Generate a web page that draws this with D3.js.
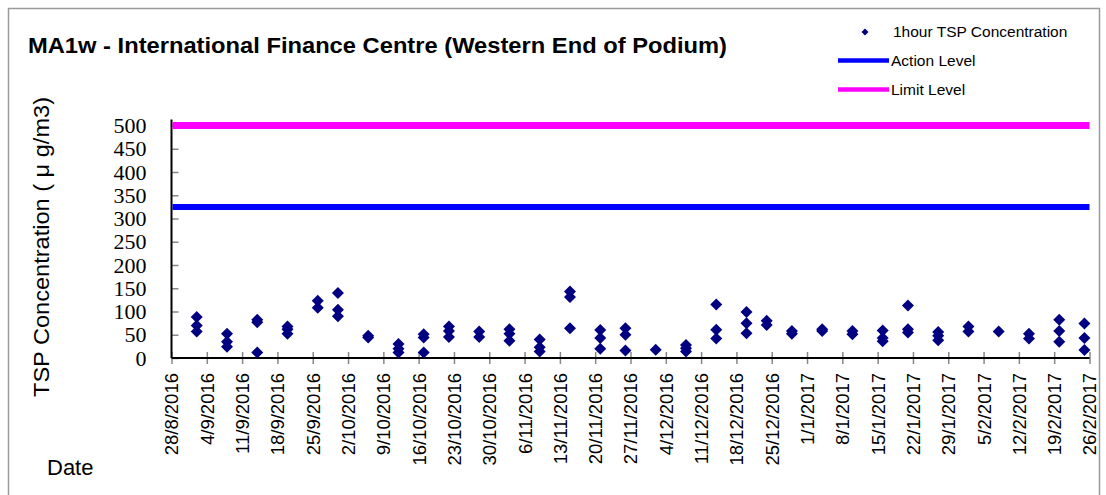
<!DOCTYPE html>
<html>
<head>
<meta charset="utf-8">
<script src="https://cdn.jsdelivr.net/npm/d3@7"></script>
<style>
  body { margin: 0; background: #fff; }
  .sans { font-family: Arial, "Liberation Sans", sans-serif; }
</style>
</head>
<body>
<div id="vis"></div>
<script>
// chart data
const title = "MA1w - International Finance Centre (Western End of Podium)"
const sampleDates = ["2016-09-02", "2016-09-08", "2016-09-14", "2016-09-20", "2016-09-26", "2016-09-30",
  "2016-10-06", "2016-10-12", "2016-10-17", "2016-10-22", "2016-10-28", "2016-11-03", "2016-11-09",
  "2016-11-15", "2016-11-21", "2016-11-26", "2016-12-02", "2016-12-08", "2016-12-14", "2016-12-20",
  "2016-12-24", "2016-12-29", "2017-01-04", "2017-01-10", "2017-01-16", "2017-01-21", "2017-01-27",
  "2017-02-02", "2017-02-08", "2017-02-14", "2017-02-20", "2017-02-25"]
const tspValues = [
  [88, 70, 57], [52, 35, 24], [82, 77, 12], [68, 62, 52], [123, 108], [140, 104, 90],
  [48, 44], [30, 20, 12], [51, 44, 12], [68, 58, 45], [57, 45], [62, 52, 37], [40, 23, 14],
  [143, 131, 64], [60, 43, 20], [64, 50, 16], [18], [28, 21, 14], [115, 61, 42], [99, 75, 53],
  [80, 71], [58, 52], [62, 58], [58, 51], [59, 43, 36], [113, 62, 55], [56, 48, 38],
  [68, 57], [57], [52, 42], [82, 58, 35], [74, 43, 17]]
const actionLevel = 325
const limitLevel = 500
const dateRange = ["2016-08-28", "2017-02-26"]
const legendLabels = ["1hour TSP Concentration", "Action Level", "Limit Level"]

const W = 1106, H = 495
const plot = { left: 171.5, right: 1089.5, top: 125.5, bottom: 358 }

const parse = d3.utcParse("%Y-%m-%d")
const points = []
sampleDates.forEach((d, i) => {
  tspValues[i].forEach(v => points.push({ date: parse(d), value: v }))
})

const svg = d3.select("#vis").append("svg")
  .attr("width", W)
  .attr("height", H)
  .attr("class", "sans")

// outer frame
svg.append("rect")
  .attr("x", 8.5).attr("y", 8.5)
  .attr("width", 1091).attr("height", 500)
  .attr("fill", "none")
  .attr("stroke", "#9a9a9a")
  .attr("stroke-width", 1.5)

const x = d3.scaleUtc()
  .domain(dateRange.map(parse))
  .range([plot.left, plot.right])

const y = d3.scaleLinear()
  .domain([0, 500])
  .range([plot.bottom, plot.top])

// title
svg.append("text")
  .attr("x", 28).attr("y", 53)
  .attr("font-size", 22)
  .attr("font-weight", "bold")
  .attr("textLength", 699)
  .attr("lengthAdjust", "spacingAndGlyphs")
  .text(title)

// y axis (serif tick labels like the original)
const yAxis = svg.append("g")
  .attr("transform", `translate(${plot.left},0)`)
  .call(d3.axisLeft(y).ticks(10).tickSize(-7).tickPadding(25))
yAxis.attr("font-family", "'Liberation Serif', 'DejaVu Serif', serif")
  .attr("font-size", 22)
yAxis.select(".domain").remove()
yAxis.selectAll(".tick line").attr("stroke", "#888").attr("stroke-width", 1.5)
yAxis.selectAll(".tick text")
  .attr("style", "font-family: 'Liberation Serif', 'DejaVu Serif', serif; font-size: 22px")
  .attr("fill", "#000")

// x axis
const xAxis = svg.append("g")
  .attr("transform", `translate(0,${plot.bottom})`)
  .call(d3.axisBottom(x).ticks(d3.utcSunday.every(1)).tickFormat(d3.utcFormat("%-d/%-m/%Y")).tickSizeInner(6).tickSizeOuter(0))
xAxis.attr("font-family", "Arial, 'Liberation Sans', sans-serif")
  .attr("font-size", 18.5)
xAxis.select(".domain").remove()
xAxis.selectAll(".tick line")
  .attr("y1", -6)
  .attr("y2", 6)
  .attr("stroke", "#888").attr("stroke-width", 1.5)
xAxis.selectAll(".tick text")
  .attr("fill", "#000")
  .attr("text-anchor", "end")
  .attr("transform", "translate(0,15) rotate(-90)")
  .attr("x", 0).attr("y", 0)
  .attr("dy", "0.35em")

// axis lines
svg.append("line")
  .attr("x1", plot.left).attr("x2", plot.left)
  .attr("y1", plot.top - 6).attr("y2", plot.bottom)
  .attr("stroke", "#000").attr("stroke-width", 2)
svg.append("line")
  .attr("x1", plot.left).attr("x2", plot.right)
  .attr("y1", plot.bottom).attr("y2", plot.bottom)
  .attr("stroke", "#000").attr("stroke-width", 2)

// action and limit levels
svg.append("line")
  .attr("x1", plot.left + 1).attr("x2", plot.right)
  .attr("y1", y(limitLevel)).attr("y2", y(limitLevel))
  .attr("stroke", "#ff00ff").attr("stroke-width", 7)
svg.append("line")
  .attr("x1", plot.left + 1).attr("x2", plot.right)
  .attr("y1", y(actionLevel)).attr("y2", y(actionLevel))
  .attr("stroke", "#0000ff").attr("stroke-width", 6)

// points
const diamond = r => `M0,${-r}L${r},0L0,${r}L${-r},0Z`
svg.append("g")
  .selectAll("path")
  .data(points)
  .enter()
  .append("path")
  .attr("d", diamond(6))
  .attr("transform", d => `translate(${x(d.date)},${y(d.value)})`)
  .attr("fill", "#000080")

// axis titles
svg.append("text")
  .attr("transform", "translate(49,247) rotate(-90)")
  .attr("text-anchor", "middle")
  .attr("font-size", 22)
  .attr("textLength", 300)
  .attr("lengthAdjust", "spacingAndGlyphs")
  .text("TSP Concentration ( μ g/m3)")

svg.append("text")
  .attr("x", 47).attr("y", 475)
  .attr("font-size", 22)
  .text("Date")

// legend
const legend = svg.append("g")
legend.append("path")
  .attr("d", diamond(3.5))
  .attr("transform", "translate(865,32)")
  .attr("fill", "#000080")
legend.append("text")
  .attr("x", 893).attr("y", 37)
  .attr("font-size", 15.5)
  .text(legendLabels[0])
legend.append("line")
  .attr("x1", 838).attr("x2", 889)
  .attr("y1", 60.5).attr("y2", 60.5)
  .attr("stroke", "#0000ff").attr("stroke-width", 4.5)
legend.append("text")
  .attr("x", 891).attr("y", 66)
  .attr("font-size", 15.5)
  .text(legendLabels[1])
legend.append("line")
  .attr("x1", 838).attr("x2", 889)
  .attr("y1", 89.5).attr("y2", 89.5)
  .attr("stroke", "#ff00ff").attr("stroke-width", 4.5)
legend.append("text")
  .attr("x", 891).attr("y", 95)
  .attr("font-size", 15.5)
  .text(legendLabels[2])
</script>
</body>
</html>
